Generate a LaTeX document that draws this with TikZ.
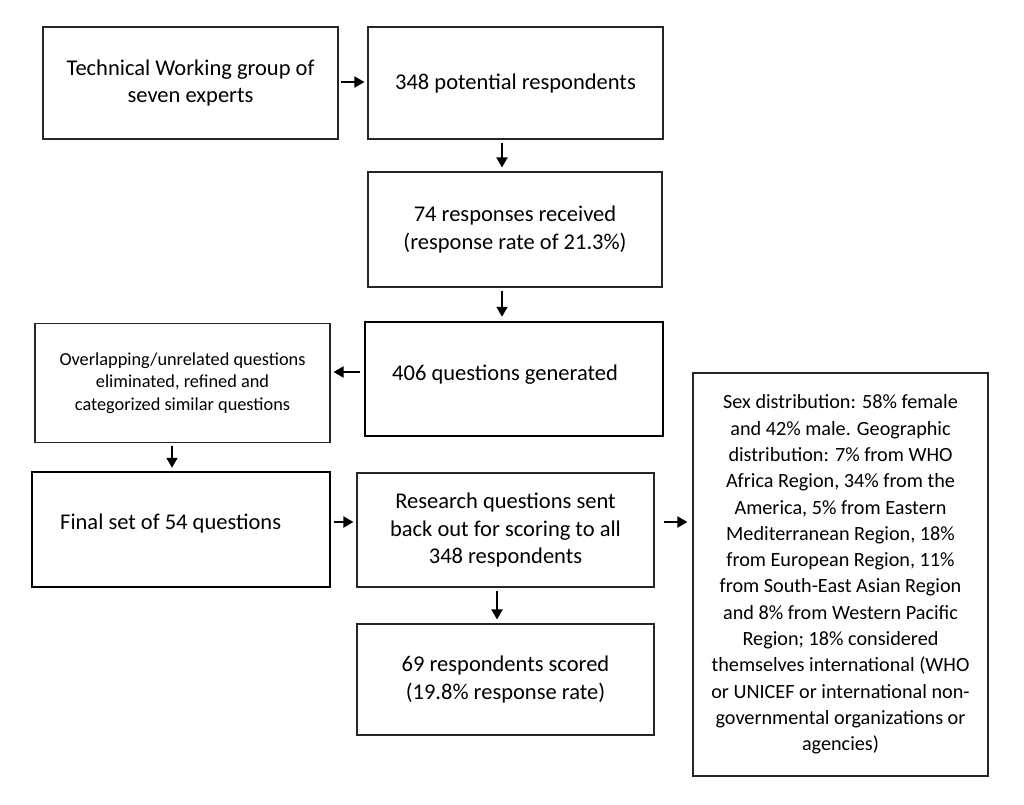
\documentclass[tikz,border=0pt]{standalone}
\usepackage{fontspec}
\setmainfont{Carlito}
\usetikzlibrary{arrows.meta,calc}
\begin{document}
\begin{tikzpicture}[x=1pt,y=-1pt,
  box/.style={draw=black!85,line width=1.1pt,inner sep=0pt,align=center,
     font=\fontsize{22.5}{27.5}\selectfont},
  thickbox/.style={box,line width=2.5pt,draw=black},
  txt/.style={inner sep=0pt,align=left,font=\fontsize{22.5}{27.5}\selectfont},
  arr/.style={line width=1.9pt,-{Triangle[length=10pt,width=11pt]}}]
\useasboundingbox (0,0) rectangle (1024,804);
\node[box,minimum width=295pt,minimum height=112pt] (b1) at (190.5,83) {Technical Working group of\\seven experts};
\node[box,minimum width=295pt,minimum height=112pt] (b2) at (515.5,83) {348 potential respondents};
\node[box,minimum width=294pt,minimum height=115pt] (b3) at (515,229.5) {74 responses received\\(response rate of 21.3\%)};
\node[box,minimum width=295pt,minimum height=119pt,font=\fontsize{18.3}{22.7}\selectfont] (b4) at (182.5,383) {Overlapping/unrelated questions\\eliminated, refined and\\categorized similar questions};
\node[thickbox,minimum width=298pt,minimum height=114pt] (b5) at (514,379) {};
\node[txt,anchor=west] (t5) at (392,375) {406 questions generated};
\node[box,minimum width=295pt,minimum height=403pt,font=\fontsize{20.2}{26.3}\selectfont] (b6) at (840.5,574.5) {Sex distribution: 58\% female\\and 42\% male. Geographic\\distribution: 7\% from WHO\\Africa Region, 34\% from the\\America, 5\% from Eastern\\Mediterranean Region, 18\%\\from European Region, 11\%\\from South-East Asian Region\\and 8\% from Western Pacific\\Region; 18\% considered\\themselves international (WHO\\or UNICEF or international non-\\governmental organizations or\\agencies)};
\node[thickbox,minimum width=298pt,minimum height=115pt] (b7) at (181,529.5) {};
\node[txt,anchor=west] (t7) at (60,523) {Final set of 54 questions};
\node[box,minimum width=297pt,minimum height=114pt] (b8) at (505.5,530) {Research questions sent\\back out for scoring to all\\348 respondents};
\node[box,minimum width=297pt,minimum height=111pt] (b9) at (505.5,679.5) {69 respondents scored\\(19.8\% response rate)};
% connectors
\draw[arr] ($(b1.east)+(2,-1)$) -- ($(b2.west)+(-3,-1)$);
\draw[arr] ($(b2.south)+(-13.5,3)$) -- ($(b3.north)+(-13,-4)$);
\draw[arr] ($(b3.south)+(-13,3)$) -- ($(b5.north)+(-12,-4)$);
\draw[arr] ($(b5.west)+(-4,-7)$) -- ($(b4.east)+(3,-11)$);
\draw[arr] ($(b4.south)+(-10.5,2.5)$) -- ($(b7.north)+(-9,-3)$);
\draw[arr] ($(b7.east)+(3,-7.5)$) -- ($(b8.west)+(-3,-8)$);
\draw[arr] ($(b8.south)+(-8.5,3)$) -- ($(b9.north)+(-8.5,-4)$);
\draw[arr] ($(b8.east)+(9,-8)$) -- ($(b6.west)+(-5,-52.5)$);
\end{tikzpicture}
\end{document}
